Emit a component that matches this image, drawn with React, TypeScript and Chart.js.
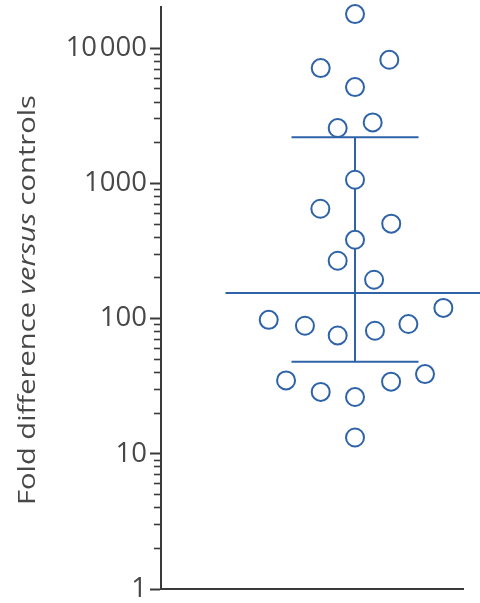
import React, { useEffect, useRef } from 'react';
import { Chart, registerables } from 'chart.js';

Chart.register(...registerables);

// ---- data ----
const foldValues = [17900, 8220, 7140, 5160, 2570, 2830, 1065, 650, 504, 383, 268, 194, 120, 98, 88.6, 75.1, 81.4, 91.2, 34.9, 28.7, 26.3, 34.2, 38.9, 13.2];
const jitterOffsets = [0, 1.96, -1.96, 0, -0.99, 1.01, 0, -1.98, 2.07, 0, -0.99, 1.09, 5.05, -4.93, -2.86, -0.99, 1.14, 3.05, -3.94, -1.96, 0, 2.06, 4.0, 0];
const medianValue = 155;
const upperBarValue = 2200;
const lowerBarValue = 48;
const majorTickValues = [1, 10, 100, 1000, 10000];
const majorTickLabels = ['1', '10', '100', '1000', '10\u200A000'];
const minorMultipliers = [2, 3, 4, 5, 6, 7, 8, 9];
const titleParts = [
  { text: 'Fold difference ', italic: false },
  { text: 'versus', italic: true },
  { text: ' controls', italic: false },
];

// ---- layout / style constants ----
const W = 480;
const H = 603;
const X_MIN = -11.086;
const X_MAX = 6.171;
const Y_MIN = 1;
const Y_MAX = 20200;
const CAP_HALF = 3.63;
const MEDIAN_LEFT = -7.4;
const MEDIAN_RIGHT = 7.3;
const BLUE = '#2e63a8';
const AXIS = '#3a3a3a';
const TEXT = '#484848';
const FONT = "'Open Sans', sans-serif";

const isMajor = (v: number) => majorTickValues.indexOf(v) >= 0;

const titlePlugin = {
  id: 'mixedYTitle',
  afterDraw(chart: any) {
    const { ctx, chartArea } = chart;
    const size = 24.5;
    const targetLength = 410;
    ctx.save();
    ctx.fillStyle = TEXT;
    ctx.textBaseline = 'alphabetic';
    ctx.textAlign = 'left';
    const fontFor = (it: boolean) => `${it ? 'italic ' : ''}${size}px ${FONT}`;
    let total = 0;
    const widths = titleParts.map((p) => {
      ctx.font = fontFor(p.italic);
      const w = ctx.measureText(p.text).width;
      total += w;
      return w;
    });
    ctx.translate(35, (chartArea.top + chartArea.bottom) / 2 + 2);
    ctx.rotate(-Math.PI / 2);
    ctx.scale(targetLength / total, 1);
    let x = -total / 2;
    titleParts.forEach((p, i) => {
      ctx.font = fontFor(p.italic);
      ctx.fillText(p.text, x, 0);
      x += widths[i];
    });
    ctx.restore();
  },
};

function zeroPad(s: any) {
  s.paddingTop = 0;
  s.paddingBottom = 0;
  s.paddingLeft = 0;
  s.paddingRight = 0;
}

export default function App() {
  const ref = useRef<HTMLCanvasElement>(null);

  useEffect(() => {
    if (!ref.current) return;
    const line = (pts: { x: number; y: number }[]) => ({
      type: 'scatter' as const,
      data: pts,
      showLine: true,
      borderColor: BLUE,
      borderWidth: 2,
      pointRadius: 0,
      pointHoverRadius: 0,
      clip: false as any,
      order: 1,
    });
    const chart = new Chart(ref.current, {
      type: 'scatter',
      data: {
        datasets: [
          {
            data: foldValues.map((v, i) => ({ x: jitterOffsets[i], y: v })),
            pointRadius: 9,
            pointHoverRadius: 9,
            borderWidth: 2,
            pointBorderColor: BLUE,
            pointBackgroundColor: '#ffffff',
            borderColor: BLUE,
            backgroundColor: '#ffffff',
            clip: false as any,
            order: 0,
          } as any,
          line([{ x: MEDIAN_LEFT, y: medianValue }, { x: MEDIAN_RIGHT, y: medianValue }]),
          line([{ x: -CAP_HALF, y: upperBarValue }, { x: CAP_HALF, y: upperBarValue }]),
          line([{ x: -CAP_HALF, y: lowerBarValue }, { x: CAP_HALF, y: lowerBarValue }]),
          line([{ x: 0, y: lowerBarValue }, { x: 0, y: upperBarValue }]),
        ],
      },
      options: {
        animation: false,
        responsive: false,
        devicePixelRatio: 1,
        layout: { autoPadding: false, padding: { top: 7, right: 17, bottom: 14, left: 0 } },
        plugins: { legend: { display: false }, tooltip: { enabled: false }, title: { display: false } },
        events: [],
        scales: {
          x: {
            type: 'linear',
            min: X_MIN,
            max: X_MAX,
            display: true,
            ticks: { display: false },
            grid: { display: false, drawTicks: false },
            border: { display: true, color: AXIS, width: 2 },
            afterFit: (s: any) => {
              s.height = 0;
              zeroPad(s);
            },
          },
          y: {
            type: 'logarithmic',
            position: 'left',
            min: Y_MIN,
            max: Y_MAX,
            afterBuildTicks: (s: any) => {
              const t: { value: number; major: boolean }[] = [];
              majorTickValues.forEach((m, k) => {
                t.push({ value: m, major: true });
                if (k < majorTickValues.length - 1) {
                  minorMultipliers.forEach((f) => t.push({ value: f * m, major: false }));
                }
              });
              s.ticks = t;
            },
            ticks: {
              autoSkip: false,
              padding: 3,
              color: TEXT,
              font: { family: FONT, size: 27.5 },
              callback: (value: any) => {
                const i = majorTickValues.indexOf(Number(value));
                return i >= 0 ? majorTickLabels[i] : '';
              },
            },
            grid: {
              display: true,
              drawOnChartArea: false,
              drawTicks: true,
              tickLength: 11,
              tickWidth: (c: any) => (c.tick && isMajor(c.tick.value) ? 2 : 1.6),
              tickBorderDash: (c: any) => (c.tick && isMajor(c.tick.value) ? [] : [7, 100]),
              tickBorderDashOffset: (c: any) => (c.tick && isMajor(c.tick.value) ? 0 : 103),
              tickColor: AXIS,
            },
            border: { display: true, color: AXIS, width: 2 },
            afterFit: (s: any) => {
              s.width = 161;
              zeroPad(s);
            },
          },
        },
      } as any,
      plugins: [titlePlugin],
    });
    return () => chart.destroy();
  }, []);

  return (
    <canvas
      ref={ref}
      width={W}
      height={H}
      style={{ position: 'absolute', left: 0, top: 0, width: W, height: H, display: 'block' }}
    />
  );
}
